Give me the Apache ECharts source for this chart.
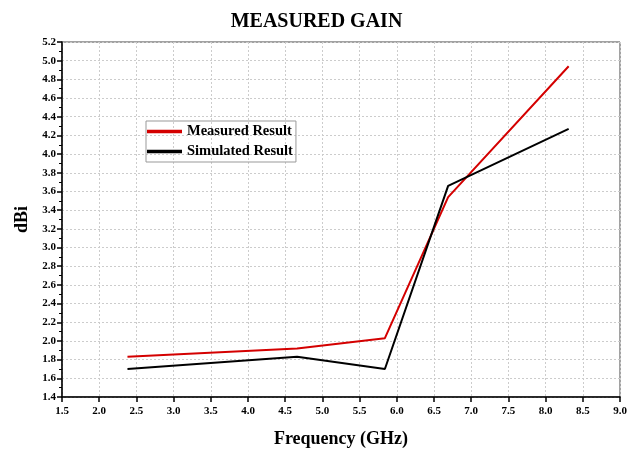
<!DOCTYPE html>
<html><head><meta charset="utf-8">
<script src="https://cdn.jsdelivr.net/npm/echarts@6/dist/echarts.min.js"></script>
<style>html,body{margin:0;padding:0;background:#fff}#c{width:633px;height:450px}</style>
</head><body><div id="c"></div>
<script>
var freqs = [2.38, 4.66, 5.84, 6.69, 8.31];
var measured = [1.83, 1.92, 2.03, 3.54, 4.94];
var simulated = [1.70, 1.83, 1.70, 3.66, 4.27];
var F = '"Liberation Serif", "Times New Roman", serif';
function pairs(xs, ys){ return xs.map(function(x,i){ return [x, ys[i]]; }); }
var chart = echarts.init(document.getElementById('c'));
chart.setOption({
  animation: false,
  title: { text: 'MEASURED GAIN', left: 'center', top: 7, textStyle: { fontFamily: F, fontWeight: 'bold', fontSize: 20, color: '#000' } },
  grid: { left: 62, right: 13, top: 42, bottom: 53, show: true, borderColor: '#444', borderWidth: 1, containLabel: false, outerBoundsMode: 'none' },
  legend: {
    left: 146, top: 121, orient: 'vertical', itemGap: 5, itemWidth: 35, itemHeight: 14,
    borderColor: '#999', borderWidth: 1, padding: [3, 3, 3, 1],
    textStyle: { fontFamily: F, fontWeight: 'bold', fontSize: 14.5, color: '#000' },
    data: [{ name: 'Measured Result', icon: 'path://M0,0 L10,0 L10,1 L0,1 Z' }, { name: 'Simulated Result', icon: 'path://M0,0 L10,0 L10,1 L0,1 Z' }]
  },
  xAxis: {
    type: 'value', min: 1.5, max: 9, interval: 0.5,
    name: 'Frequency (GHz)', nameLocation: 'middle', nameGap: 33,
    nameTextStyle: { fontFamily: F, fontWeight: 'bold', fontSize: 18, color: '#000' },
    axisLine: { lineStyle: { color: '#000', width: 1.5 } },
    axisTick: { inside: false, length: 5, lineStyle: { color: '#000', width: 1.5 } },
    axisLabel: { fontFamily: F, fontWeight: 'bold', fontSize: 11, color: '#000', margin: 9, formatter: function(v){ return v.toFixed(1); } },
    splitLine: { show: true, lineStyle: { color: '#ccc', type: [2, 2], width: 1 } }
  },
  yAxis: {
    type: 'value', min: 1.4, max: 5.2, interval: 0.2,
    name: 'dBi', nameLocation: 'middle', nameGap: 31,
    nameTextStyle: { fontFamily: F, fontWeight: 'bold', fontSize: 18, color: '#000' },
    axisLine: { show: true, lineStyle: { color: '#000', width: 1.5 } },
    axisTick: { show: true, inside: false, length: 5, lineStyle: { color: '#000', width: 1.5 } },
    minorTick: { show: true, splitNumber: 2, length: 3, lineStyle: { color: '#000', width: 1 } },
    axisLabel: { fontFamily: F, fontWeight: 'bold', fontSize: 11, color: '#000', margin: 6, formatter: function(v){ return v.toFixed(1); } },
    splitLine: { show: true, lineStyle: { color: '#ccc', type: [2, 2], width: 1 } }
  },
  series: [
    { name: 'Measured Result', type: 'line', data: pairs(freqs, measured), showSymbol: false, symbol: 'none', itemStyle: { color: '#d40000' }, lineStyle: { color: '#d40000', width: 2 } },
    { name: 'Simulated Result', type: 'line', data: pairs(freqs, simulated), showSymbol: false, symbol: 'none', itemStyle: { color: '#000' }, lineStyle: { color: '#000', width: 2 } }
  ]
});
</script></body></html>
